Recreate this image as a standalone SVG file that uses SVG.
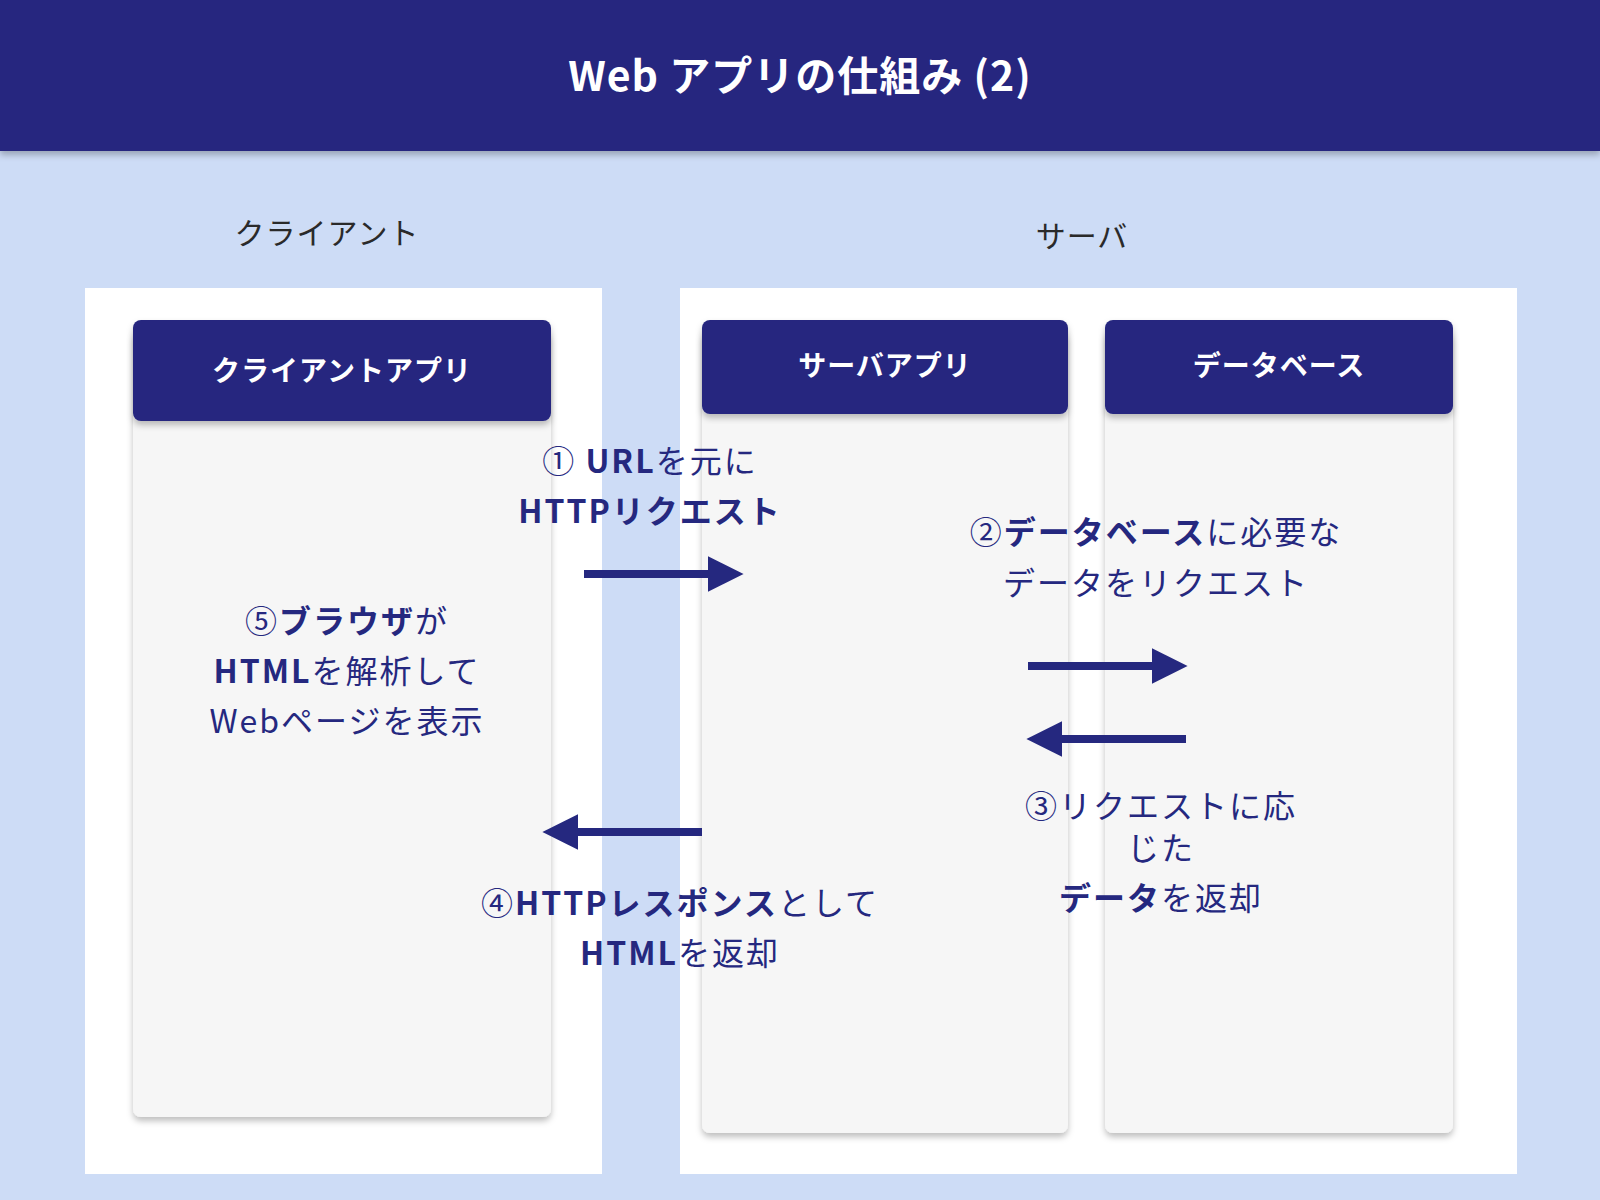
<svg xmlns="http://www.w3.org/2000/svg" width="1600" height="1200" viewBox="0 0 1600 1200">
<defs>
<style>
text{font-family:"Noto Sans CJK JP","Noto Sans",sans-serif;fill:#25287f;text-anchor:middle}
.hd{fill:#25287f}
.body{fill:#f6f6f6}
.ht{fill:#fff;font-weight:700;font-size:28px;letter-spacing:1px}
.lb{font-size:30px;fill:#2a2a2a;letter-spacing:1px}
.t{font-size:32px;letter-spacing:2px}
.b{font-weight:700}
.ar{stroke:#25287f;stroke-width:8;fill:none;marker-end:url(#ah)}
</style>
<marker id="ah" viewBox="0 0 10 10" refX="4" refY="5" markerWidth="4.5" markerHeight="4.5" orient="auto" markerUnits="strokeWidth"><path d="M0,0L10,5L0,10z" fill="#25287f"/></marker>
<filter id="sh" x="-10%" y="-10%" width="120%" height="120%"><feDropShadow dx="0" dy="4" stdDeviation="3" flood-color="#000" flood-opacity="0.25"/></filter>
</defs>
<rect width="1600" height="1200" fill="#cddcf6"/>
<g id="header"><rect width="1600" height="151" fill="#25287f" filter="url(#sh)"/>
<text x="800" y="91" style="fill:#fff;font-size:41px;font-weight:700;letter-spacing:1px">Web アプリの仕組み (2)</text></g>
<text class="lb" x="327" y="244">クライアント</text>
<text class="lb" x="1082" y="247">サーバ</text>
<rect x="85" y="288" width="517" height="886" fill="#fff"/>
<rect x="680" y="288" width="837" height="886" fill="#fff"/>
<g id="client">
<rect class="body" x="133" y="330" width="418" height="787" rx="8" filter="url(#sh)"/>
<rect class="hd" x="133" y="320" width="418" height="101" rx="8" filter="url(#sh)"/>
<text class="ht" x="342" y="381">クライアントアプリ</text></g>
<g id="server">
<rect class="body" x="702" y="330" width="366" height="803" rx="8" filter="url(#sh)"/>
<rect class="hd" x="702" y="320" width="366" height="94" rx="8" filter="url(#sh)"/>
<text class="ht" x="885" y="376">サーバアプリ</text></g>
<g id="db">
<rect class="body" x="1105" y="330" width="348" height="803" rx="8" filter="url(#sh)"/>
<rect class="hd" x="1105" y="320" width="348" height="94" rx="8" filter="url(#sh)"/>
<text class="ht" x="1279" y="376">データベース</text></g>
<g id="connectors">
<line class="ar" x1="584" y1="574" x2="722" y2="574"/>
<line class="ar" x1="1028" y1="666" x2="1166" y2="666"/>
<line class="ar" x1="1186" y1="739" x2="1048" y2="739"/>
<line class="ar" x1="702" y1="832" x2="564" y2="832"/>
</g>
<g id="labels">
<text class="t" x="650" y="473">① <tspan class="b">URL</tspan>を元に</text>
<text class="t b" x="650" y="523">HTTPリクエスト</text>
<text class="t" x="1156" y="544">②<tspan class="b">データベース</tspan>に必要な</text>
<text class="t" x="1156" y="595">データをリクエスト</text>
<text class="t" x="347" y="633">⑤<tspan class="b">ブラウザ</tspan>が</text>
<text class="t" x="347" y="683"><tspan class="b">HTML</tspan>を解析して</text>
<text class="t" x="347" y="733">Webページを表示</text>
<text class="t" x="1161" y="818">③リクエストに応</text>
<text class="t" x="1161" y="860">じた</text>
<text class="t" x="1161" y="910"><tspan class="b">データ</tspan>を返却</text>
<text class="t" x="680" y="915">④<tspan class="b">HTTPレスポンス</tspan>として</text>
<text class="t" x="680" y="965"><tspan class="b">HTML</tspan>を返却</text>
</g>
</svg>
